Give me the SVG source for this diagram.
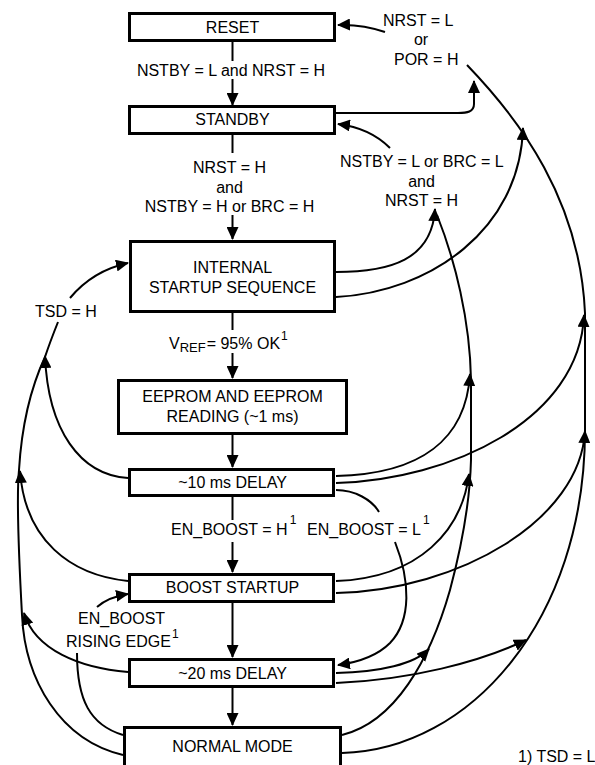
<svg xmlns="http://www.w3.org/2000/svg" width="595" height="765" viewBox="0 0 595 765">
<style>
text{font-family:"Liberation Sans",Arial,sans-serif;font-size:16px;fill:#000}
.c{text-anchor:middle}
.sup{font-size:12px}
.sub{font-size:13px}
.box{fill:#fff;stroke:#000;stroke-width:3}
.ln{fill:none;stroke:#000;stroke-width:2}
.ar{marker-end:url(#ah)}
</style>
<defs>
<marker id="ah" markerUnits="userSpaceOnUse" markerWidth="14" markerHeight="12" refX="12" refY="6" orient="auto"><path d="M0,0 L13,6 L0,12 z" fill="#000"/></marker>
</defs>
<g id="connectors">
<path class="ln" d="M232.5,42 V61"/>
<path class="ln ar" d="M232.5,79 V105"/>
<path class="ln" d="M232.5,135 V153"/>
<path class="ln ar" d="M232.5,215 V239"/>
<path class="ln" d="M232.5,313 V330"/>
<path class="ln ar" d="M232.5,353 V378"/>
<path class="ln ar" d="M232.5,435 V467"/>
<path class="ln" d="M232.5,497 V520"/>
<path class="ln ar" d="M232.5,542 V572"/>
<path class="ln ar" d="M232.5,603 V657"/>
<path class="ln ar" d="M232.5,688 V725"/>
<path class="ln ar" d="M385,32 Q362,24 338,25"/>
<path class="ln ar" d="M336,113 L458,113 C467,113 474,112 474,104 L474,81"/>
<path class="ln ar" d="M390,148 Q370,128 338,124"/>
<path class="ln" d="M467,65 C520,120 580,200 585,313 L585,430 C585,620 470,750 342,753"/>
<path class="ln ar" d="M336,297 C430,292 520,230 523,128"/>
<path class="ln ar" d="M336,483 C450,480 580,420 584,315"/>
<path class="ln ar" d="M336,593 C460,590 580,520 585,431"/>
<path class="ln ar" d="M336,683 C410,680 480,662 526,640"/>
<path class="ln" d="M342,735 C395,722 430,660 450,590 C462,545 470,500 471,460 L471,380 C470,320 455,260 437,215"/>
<path class="ln ar" d="M336,272 C390,272 432,260 435,209"/>
<path class="ln ar" d="M336,476 C420,474 466,440 470,374"/>
<path class="ln ar" d="M336,581 C420,578 462,530 469,474"/>
<path class="ln ar" d="M336,673 C380,672 415,664 429,649"/>
<path class="ln" d="M336,490 C355,490 372,500 379,512"/>
<path class="ln ar" d="M395,542 C410,580 412,620 390,643 C378,655 360,662 338,665"/>
<path class="ln" d="M123,755 C60,740 25,680 22,615 C19,560 16,500 19,470 C22,420 32,385 45,357 C50,342 54,332 58,322"/>
<path class="ln ar" d="M70,298 C85,280 105,268 128,263"/>
<path class="ln ar" d="M128,478 C80,475 48,430 45,356"/>
<path class="ln ar" d="M128,581 C70,575 25,540 20,471"/>
<path class="ln ar" d="M128,672 C80,668 35,650 24,613"/>
<path class="ln" d="M123,735 C90,725 77,700 77,653"/>
<path class="ln ar" d="M97,607 C105,600 115,596 128,594"/>
</g>
<g id="reset"><rect class="box" x="129.5" y="13.5" width="205" height="27"/><text class="c" x="232.5" y="32.5">RESET</text></g>
<g id="standby"><rect class="box" x="129.5" y="106.5" width="205" height="27"/><text class="c" x="232.5" y="125">STANDBY</text></g>
<g id="internal"><rect class="box" x="130.5" y="241.5" width="204" height="70"/><text class="c" x="232.5" y="273">INTERNAL</text><text class="c" x="232.5" y="293">STARTUP SEQUENCE</text></g>
<g id="eeprom"><rect class="box" x="118.5" y="380.5" width="228" height="53"/><text class="c" x="232.5" y="402">EEPROM AND EEPROM</text><text class="c" x="232.5" y="422">READING (~1 ms)</text></g>
<g id="delay10"><rect class="box" x="129.5" y="469.5" width="204" height="26"/><text class="c" x="232.5" y="488">~10 ms DELAY</text></g>
<g id="boost"><rect class="box" x="129.5" y="574.5" width="204" height="27"/><text class="c" x="232.5" y="593">BOOST STARTUP</text></g>
<g id="delay20"><rect class="box" x="129.5" y="659.5" width="204" height="27"/><text class="c" x="232.5" y="679">~20 ms DELAY</text></g>
<g id="normal"><rect class="box" x="124.5" y="727.5" width="216" height="45"/><text class="c" x="232.5" y="752">NORMAL MODE</text></g>
<g id="labels">
<text class="c" x="231" y="76">NSTBY = L and NRST = H</text>
<text class="c" x="229.5" y="173">NRST = H</text>
<text class="c" x="229.5" y="193">and</text>
<text class="c" x="229.5" y="212">NSTBY = H or BRC = H</text>
<text x="169" y="349">V<tspan class="sub" dy="3">REF</tspan><tspan dx="1" dy="-3">= 95% OK</tspan><tspan class="sup" dx="1" dy="-9">1</tspan></text>
<text x="171" y="535">EN_BOOST = H<tspan class="sup" dx="2" dy="-11">1</tspan></text>
<text x="307" y="535">EN_BOOST = L<tspan class="sup" dx="2" dy="-11">1</tspan></text>
<text x="78" y="624">EN_BOOST</text>
<text x="66" y="647">RISING EDGE<tspan class="sup" dx="1" dy="-9">1</tspan></text>
<text x="35" y="317">TSD = H</text>
<text x="383" y="26">NRST = L</text>
<text class="c" x="421" y="45">or</text>
<text x="394" y="65">POR = H</text>
<text x="340" y="167">NSTBY = L or BRC = L</text>
<text class="c" x="421.5" y="187">and</text>
<text class="c" x="421.5" y="206">NRST = H</text>
<text x="518" y="762">1) TSD = L</text>
</g>
</svg>
